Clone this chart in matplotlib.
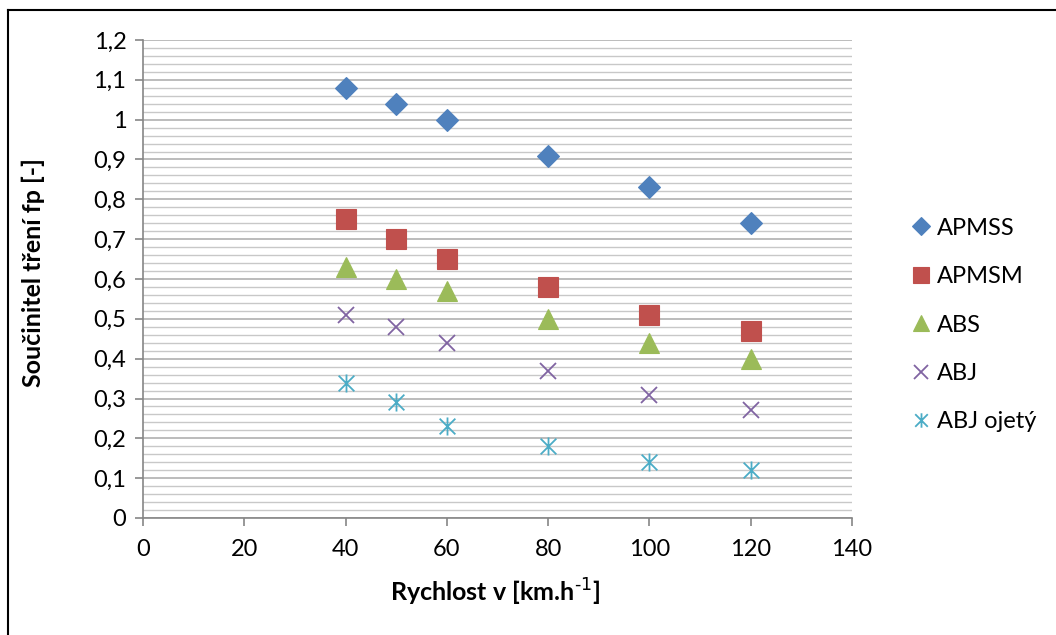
import numpy as np
import matplotlib.pyplot as plt
from matplotlib.lines import Line2D
from matplotlib.path import Path
from matplotlib.ticker import MultipleLocator, FuncFormatter

# data
speed = [40, 50, 60, 80, 100, 120]
apmss = [1.08, 1.04, 1.00, 0.91, 0.83, 0.74]
apmsm = [0.75, 0.70, 0.65, 0.58, 0.51, 0.47]
abs_ = [0.63, 0.60, 0.57, 0.50, 0.44, 0.40]
abj = [0.51, 0.48, 0.44, 0.37, 0.31, 0.27]
abj_ojety = [0.34, 0.29, 0.23, 0.18, 0.14, 0.12]
names = ['APMSS', 'APMSM', 'ABS', 'ABJ', 'ABJ ojetý']

plt.rcParams['font.family'] = ['Lato', 'DejaVu Sans']

# excel style star: an X with a vertical bar through it
star = Path([(-1, -1), (1, 1), (-1, 1), (1, -1), (0, -1.15), (0, 1.15)],
            [Path.MOVETO, Path.LINETO, Path.MOVETO, Path.LINETO, Path.MOVETO, Path.LINETO])

fig = plt.figure(figsize=(10.56, 6.35), dpi=100)
ax = fig.add_axes([143/1056, 1-518/635, (852-143)/1056, (518-40)/635])

series = [apmss, apmsm, abs_, abj, abj_ojety]
styles = [
    dict(marker='D', color='#4F81BD', ms=11),
    dict(marker='s', color='#C0504D', ms=14),
    dict(marker='^', color='#9BBB59', ms=14),
    dict(marker='x', color='#8064A2', ms=12, mew=1.3),
    dict(marker=star, color='#4BACC6', ms=13, mew=1.3),
]
for name, vals, st in zip(names, series, styles):
    st = dict(st)
    mew = st.pop('mew', 0.8)
    ax.plot(speed, vals, linestyle='none', label=name, mec=st['color'],
            mfc=st['color'], mew=mew, **st)

ax.set_xlim(0, 140)
ax.set_ylim(0, 1.2)
ax.xaxis.set_major_locator(MultipleLocator(20))
ax.yaxis.set_major_locator(MultipleLocator(0.1))
ax.yaxis.set_minor_locator(MultipleLocator(0.02))
ax.yaxis.set_major_formatter(FuncFormatter(lambda v, p: ('%.1f' % v).rstrip('0').rstrip('.').replace('.', ',') if v else '0'))

ax.grid(axis='y', which='major', color='#B0B0B0', lw=1.2)
ax.grid(axis='y', which='minor', color='#C8C8C8', lw=1.0)
ax.set_axisbelow(True)
for s in ['top', 'right']:
    ax.spines[s].set_visible(False)
for s in ['left', 'bottom']:
    ax.spines[s].set_color('#868686')
    ax.spines[s].set_linewidth(1.2)
ax.tick_params(which='major', length=6, color='#868686', width=1.2, labelsize=17, pad=6)
ax.tick_params(axis='y', which='minor', length=0)
ax.tick_params(axis='x', pad=9)

ax.set_xlabel('Rychlost v [km.h$^{\\text{-1}}$]', fontsize=18, fontweight='bold', va='center')
ax.set_ylabel('Součinitel tření fp [-]', fontsize=18, fontweight='bold', va='center')
ax.xaxis.set_label_coords((495-143)/709, (518-592)/478)
ax.yaxis.set_label_coords((33-143)/709, (518-272)/478)

leg = ax.legend(loc='center left', bbox_to_anchor=((893-143)/709, (518-325)/478), frameon=False,
                fontsize=17, markerscale=0.8, handlelength=0.6, handletextpad=0.35,
                labelspacing=1.16)

# outer chart frame (top and left edges visible)
fig.add_artist(Line2D([8/1056, 8/1056], [0, 1-10/635], color='black', lw=1.5))
fig.add_artist(Line2D([8/1056, 1], [1-10/635, 1-10/635], color='black', lw=1.5))

fig.savefig('out.png', dpi=100)
